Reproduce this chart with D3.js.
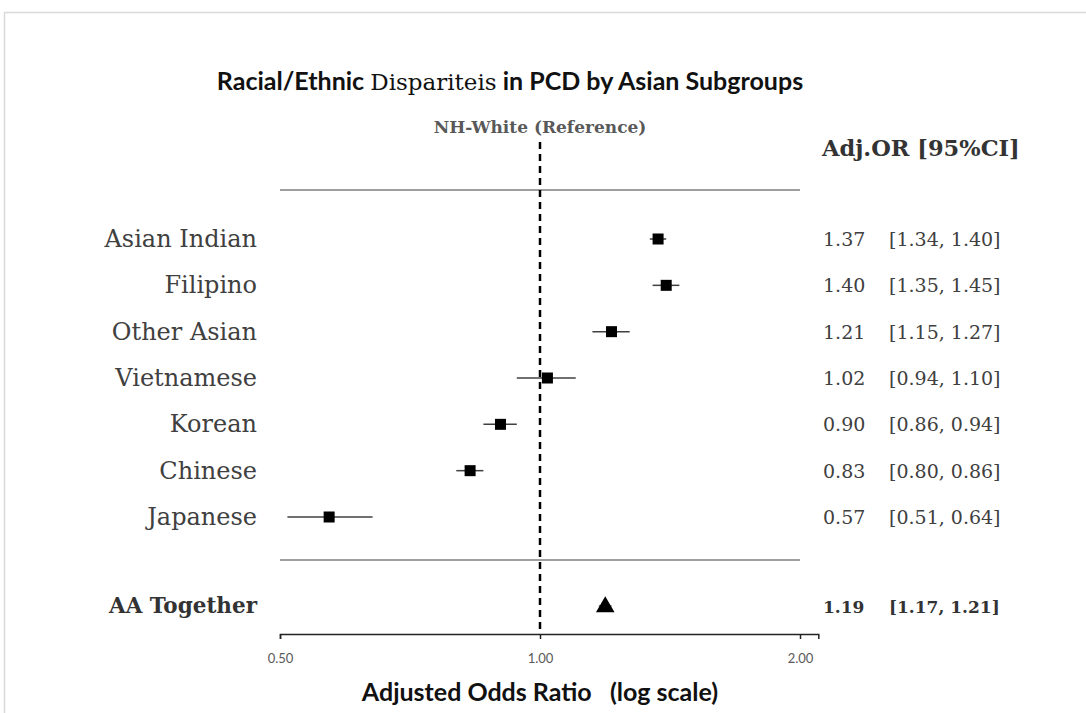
<!DOCTYPE html>
<html>
<head>
<meta charset="utf-8">
<script src="https://cdn.jsdelivr.net/npm/d3@7"></script>
<style>
  body { margin: 0; background: #fff; }
  svg { display: block; }
</style>
</head>
<body>
<svg id="chart" width="1086" height="713"></svg>
<script>
// Forest plot data
const subgroups = ["Asian Indian", "Filipino", "Other Asian", "Vietnamese", "Korean", "Chinese", "Japanese"];
const oddsRatio = [1.37, 1.40, 1.21, 1.02, 0.90, 0.83, 0.57];
const ciLower = [1.34, 1.35, 1.15, 0.94, 0.86, 0.80, 0.51];
const ciUpper = [1.40, 1.45, 1.27, 1.10, 0.94, 0.86, 0.64];
const totalLabel = ["AA Together"];
const totalOR = [1.19];
const totalLower = [1.17];
const totalUpper = [1.21];
const tickValues = [0.5, 1, 2];
const tickLabels = ["0.50", "1.00", "2.00"];

const serif = "'DejaVu Serif', 'Liberation Serif', serif";
const sans = "Lato, 'Open Sans', sans-serif";

const svg = d3.select("#chart");

// Frame
svg.append("rect")
   .attr("x", 4.5).attr("y", 12.5)
   .attr("width", 1200).attr("height", 800)
   .attr("fill", "none")
   .attr("stroke", "#d9d9d9")
   .attr("stroke-width", 1.5);

// Scales
let x = d3.scaleLog().base(2)
          .domain([0.5, 2.1])
          .range([280, 280 + 260 * Math.log2(2.1 / 0.5)]);

let y = d3.scalePoint()
          .domain(subgroups)
          .range([239, 517]);

const totalY = 606;
const axisY = 634;

// Title (mixed fonts as in the original)
const title = svg.append("text")
   .attr("x", 510).attr("y", 90)
   .attr("text-anchor", "middle")
   .attr("font-size", 25)
   .attr("fill", "#111");
title.append("tspan").attr("font-family", sans).attr("font-weight", 700).text("Racial/Ethnic ");
title.append("tspan").attr("font-family", serif).attr("font-size", 23).text("Dispariteis");
title.append("tspan").attr("font-family", sans).attr("font-weight", 700).text(" in PCD by Asian Subgroups");

// Reference label
svg.append("text")
   .attr("x", x(1)).attr("y", 133)
   .attr("text-anchor", "middle")
   .attr("font-family", serif)
   .attr("font-weight", 700)
   .attr("font-size", 17)
   .attr("fill", "#595959")
   .text("NH-White (Reference)");

// Column header
svg.append("text")
   .attr("x", 822).attr("y", 156)
   .attr("font-family", serif)
   .attr("font-weight", 700)
   .attr("font-size", 22.5)
   .attr("fill", "#333")
   .text("Adj.OR [95%CI]");

// Separator lines
[190, 560].forEach(function(ly) {
    svg.append("line")
       .attr("x1", x(0.5)).attr("x2", x(2))
       .attr("y1", ly).attr("y2", ly)
       .attr("stroke", "#7f7f7f")
       .attr("stroke-width", 1.5);
});

// Reference dashed line
svg.append("line")
   .attr("x1", x(1)).attr("x2", x(1))
   .attr("y1", 142).attr("y2", axisY)
   .attr("stroke", "#000")
   .attr("stroke-width", 2.5)
   .attr("stroke-dasharray", "7,5");

// Axis
const axis = d3.axisBottom(x)
               .tickValues(tickValues)
               .tickFormat((d, i) => tickLabels[i])
               .tickSize(5)
               .tickSizeOuter(5);

const gAxis = svg.append("g")
   .attr("transform", `translate(0,${axisY})`)
   .call(axis);
gAxis.select(".domain").attr("stroke", "#222").attr("stroke-width", 1.5);
gAxis.selectAll(".tick line").attr("stroke", "#222").attr("stroke-width", 1.5);
gAxis.selectAll(".tick text")
     .attr("font-family", sans)
     .attr("font-size", 13)
     .attr("fill", "#595959")
     .attr("dy", "1.6em");

// Axis label
svg.append("text")
   .attr("x", x(1)).attr("y", 701)
   .attr("text-anchor", "middle")
   .attr("font-family", sans)
   .attr("font-weight", 700)
   .attr("font-size", 25)
   .attr("fill", "#111")
   .attr("xml:space", "preserve")
   .text("Adjusted Odds Ratio   (log scale)");

// Subgroup rows
const rows = svg.append("g").attr("class", "rows");

rows.selectAll("text.label")
    .data(subgroups)
    .enter().append("text")
    .attr("class", "label")
    .attr("x", 257).attr("y", d => y(d) + 8)
    .attr("text-anchor", "end")
    .attr("font-family", serif)
    .attr("font-size", 24)
    .attr("fill", "#404040")
    .text(d => d);

rows.selectAll("line.ci")
    .data(subgroups)
    .enter().append("line")
    .attr("class", "ci")
    .attr("x1", (d, i) => x(ciLower[i]))
    .attr("x2", (d, i) => x(ciUpper[i]))
    .attr("y1", d => y(d)).attr("y2", d => y(d))
    .attr("stroke", "#404040")
    .attr("stroke-width", 1.5);

rows.selectAll("rect.point")
    .data(subgroups)
    .enter().append("rect")
    .attr("class", "point")
    .attr("x", (d, i) => x(oddsRatio[i]) - 5.5)
    .attr("y", d => y(d) - 5.5)
    .attr("width", 11).attr("height", 11)
    .attr("fill", "#000");

rows.selectAll("text.or")
    .data(subgroups)
    .enter().append("text")
    .attr("class", "or")
    .attr("x", 823).attr("y", d => y(d) + 7)
    .attr("font-family", serif)
    .attr("font-size", 19)
    .attr("fill", "#404040")
    .text((d, i) => oddsRatio[i].toFixed(2));

rows.selectAll("text.ci")
    .data(subgroups)
    .enter().append("text")
    .attr("class", "ci")
    .attr("x", 889).attr("y", d => y(d) + 7)
    .attr("font-family", serif)
    .attr("font-size", 19)
    .attr("fill", "#404040")
    .text((d, i) => `[${ciLower[i].toFixed(2)}, ${ciUpper[i].toFixed(2)}]`);

// Pooled row
const total = svg.append("g").attr("class", "total");

total.append("text")
     .attr("x", 257).attr("y", totalY + 7)
     .attr("text-anchor", "end")
     .attr("font-family", serif)
     .attr("font-weight", 700)
     .attr("font-size", 21.5)
     .attr("fill", "#333")
     .text(totalLabel[0]);

total.append("line")
     .attr("x1", x(totalLower[0])).attr("x2", x(totalUpper[0]))
     .attr("y1", totalY).attr("y2", totalY)
     .attr("stroke", "#555")
     .attr("stroke-width", 1.5);

total.append("path")
     .attr("d", d3.symbol(d3.symbolTriangle, 150))
     .attr("transform", `translate(${x(totalOR[0])},${totalY + 1})`)
     .attr("fill", "#000");

total.append("text")
     .attr("x", 823).attr("y", totalY + 7)
     .attr("font-family", serif)
     .attr("font-weight", 700)
     .attr("font-size", 17)
     .attr("fill", "#333")
     .text(totalOR[0].toFixed(2));

total.append("text")
     .attr("x", 889).attr("y", totalY + 7)
     .attr("font-family", serif)
     .attr("font-weight", 700)
     .attr("font-size", 17)
     .attr("fill", "#333")
     .text(`[${totalLower[0].toFixed(2)}, ${totalUpper[0].toFixed(2)}]`);
</script>
</body>
</html>
